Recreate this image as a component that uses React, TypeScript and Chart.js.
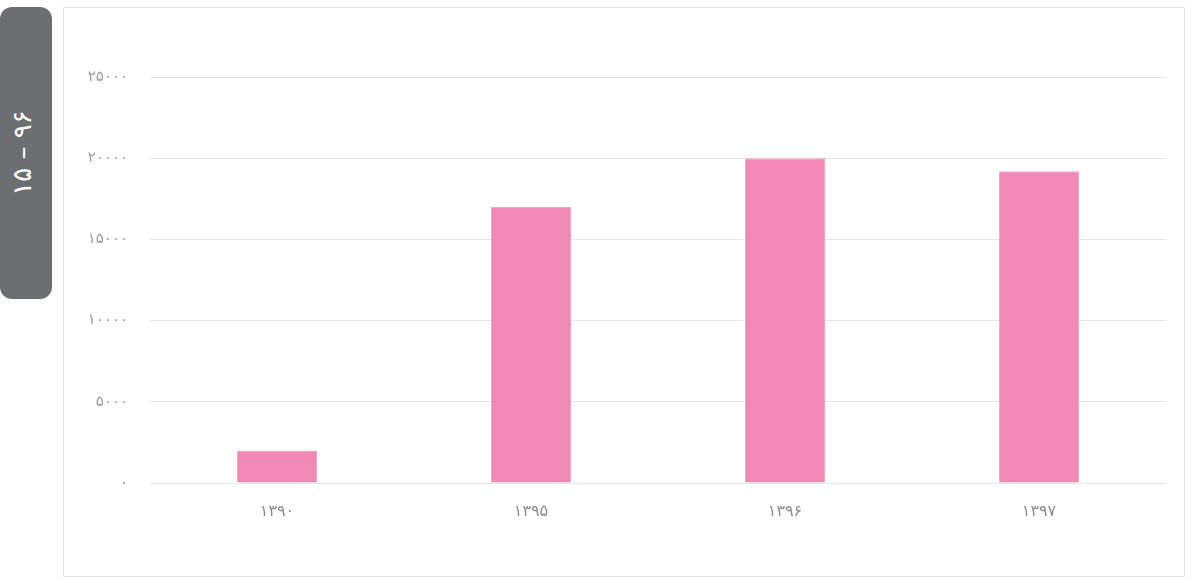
import React, { useEffect, useRef } from 'react';
import { Chart, registerables } from 'chart.js';

Chart.register(...registerables);

const categories = ['۱۳۹۰', '۱۳۹۵', '۱۳۹۶', '۱۳۹۷'];
const values = [2000, 17000, 20000, 19200];
const yTicks = [0, 5000, 10000, 15000, 20000, 25000];
const tabLabel = '۱۵ – ۹۶';

const toPersian = (s: string) => s.replace(/\d/g, (d) => '۰۱۲۳۴۵۶۷۸۹'[Number(d)]);

export default function App() {
  const ref = useRef<HTMLCanvasElement | null>(null);

  useEffect(() => {
    document.body.style.margin = '0';
    if (!ref.current) return;
    const chart = new Chart(ref.current, {
      type: 'bar',
      data: {
        labels: categories,
        datasets: [
          {
            data: values,
            backgroundColor: '#f288b6',
            borderColor: '#f6a5c8',
            borderWidth: 1,
            categoryPercentage: 1,
            barPercentage: 0.315,
          },
        ],
      },
      options: {
        animation: false,
        responsive: false,
        maintainAspectRatio: false,
        layout: { padding: { top: 69, right: 18, left: 0, bottom: 0 } },
        plugins: { legend: { display: false }, tooltip: { enabled: false } },
        scales: {
          x: {
            grid: { display: false, drawTicks: false },
            border: { display: false },
            ticks: {
              color: '#8c8c8c',
              font: { family: 'DejaVu Sans', size: 16 },
              padding: 19,
            },
            afterFit: (s: any) => {
              s.height = 93;
            },
          },
          y: {
            min: 0,
            max: 25000,
            grid: { color: '#e6e6e6', lineWidth: 1, drawTicks: false },
            border: { display: false },
            afterBuildTicks: (s: any) => {
              s.ticks = yTicks.map((v) => ({ value: v }));
            },
            ticks: {
              color: '#9a9a9a',
              font: { family: 'DejaVu Sans', size: 15 },
              padding: 22,
              callback: (v: any) => toPersian(String(v)),
            },
            afterFit: (s: any) => {
              s.width = 86;
            },
          },
        },
      },
    });
    return () => chart.destroy();
  }, []);

  return (
    <div style={{ position: 'fixed', left: 0, top: 0, width: 1192, height: 578, background: '#fff', overflow: 'hidden' }}>
      <div
        style={{
          position: 'absolute',
          left: 0,
          top: 7,
          width: 52,
          height: 292,
          background: '#6d6e72',
          borderRadius: 12,
        }}
      >
        <div
          style={{
            position: 'absolute',
            left: 22,
            top: 146,
            transform: 'translate(-50%, -50%) rotate(-90deg)',
            color: '#ffffff',
            fontFamily: 'DejaVu Sans',
            fontSize: 26,
            letterSpacing: 5,
            whiteSpace: 'nowrap',
            direction: 'ltr',
          }}
        >
          {tabLabel}
        </div>
      </div>
      <div
        style={{
          position: 'absolute',
          left: 63,
          top: 7,
          width: 1120,
          height: 568,
          border: '1px solid #e2e2e2',
        }}
      >
        <canvas ref={ref} width={1120} height={568} style={{ display: 'block', width: 1120, height: 568 }} />
      </div>
    </div>
  );
}
